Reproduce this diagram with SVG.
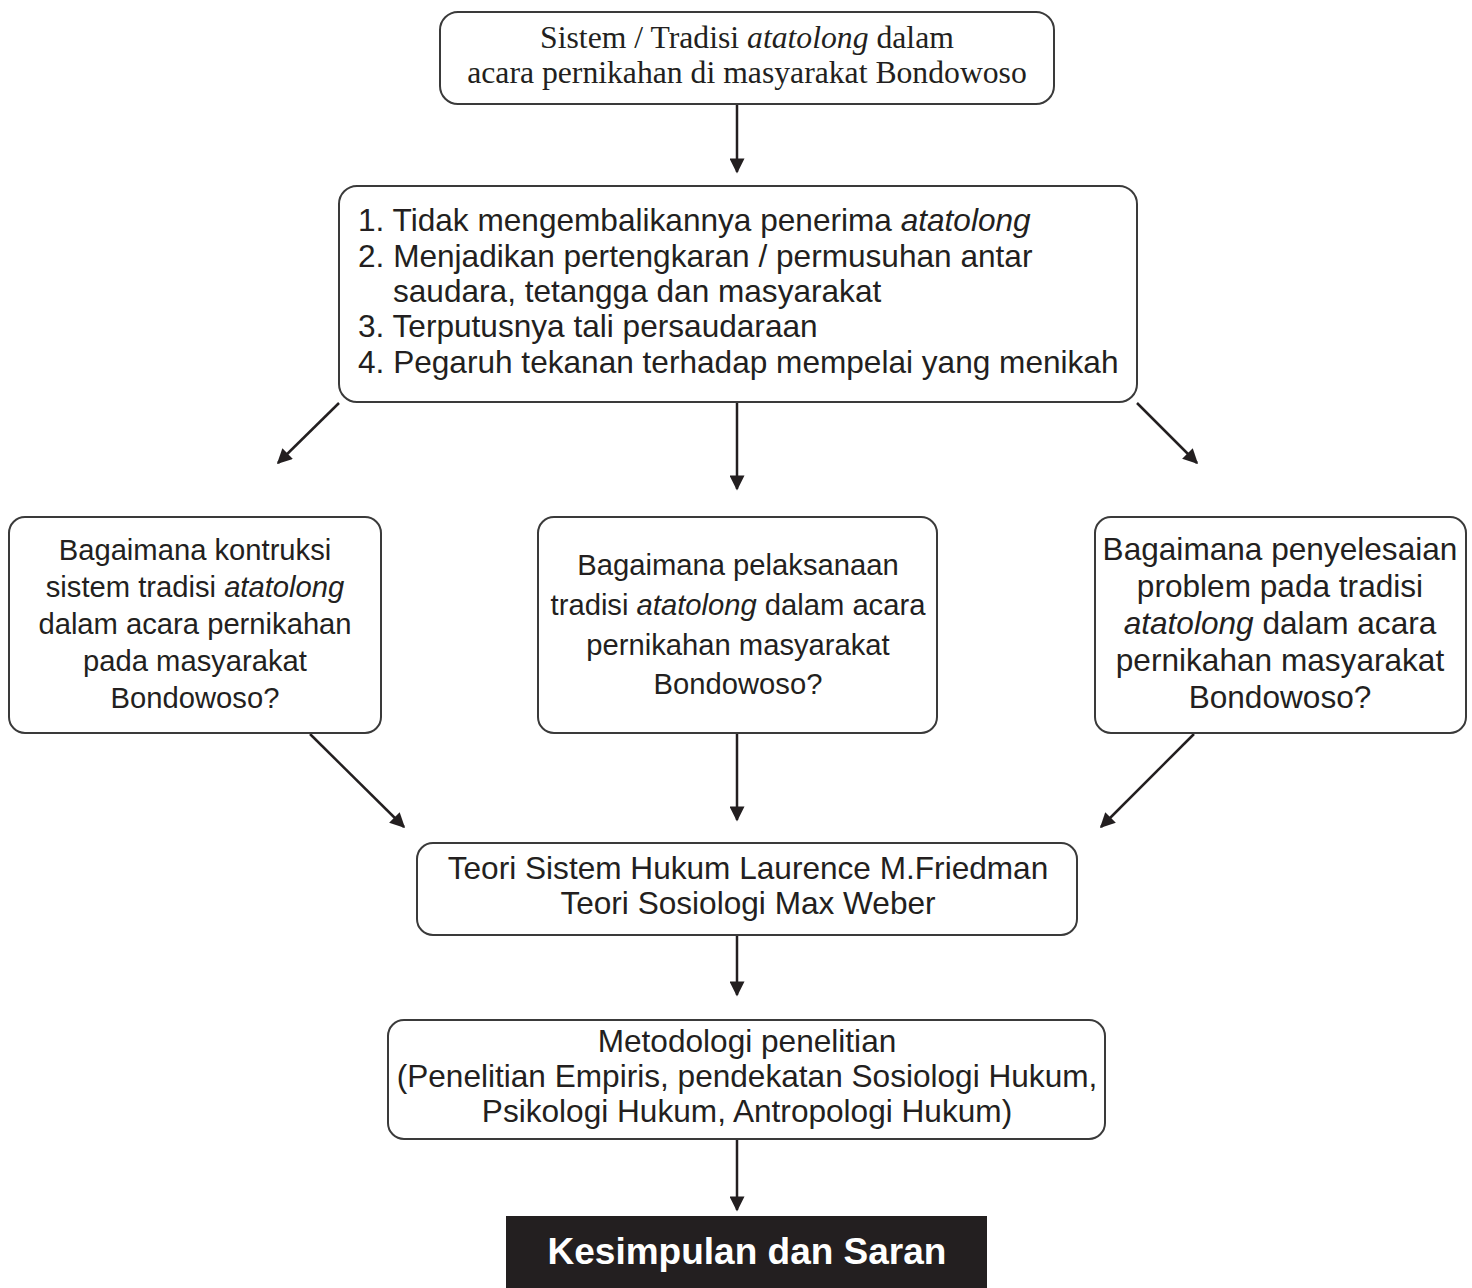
<svg xmlns="http://www.w3.org/2000/svg" width="1472" height="1288" viewBox="0 0 1472 1288">
<style>
.box{fill:#fff;stroke:#3a3a3a;stroke-width:2}
.sans{font-family:"Liberation Sans",Arial,sans-serif;font-size:31.6px;fill:#231f20}
.sm{font-size:29.2px}
.serif{font-family:"Liberation Serif","Times New Roman",serif;font-size:31.7px;fill:#231f20}
.c{text-anchor:middle}
.edge{stroke:#231f20;stroke-width:2.5;fill:none;marker-end:url(#ah)}
</style>
<defs>
<marker id="ah" viewBox="0 0 10 10" refX="9" refY="5" markerWidth="7.5" markerHeight="6" markerUnits="strokeWidth" orient="auto">
<path d="M0,0 L10,5 L0,10 z" fill="#231f20"/>
</marker>
</defs>
<rect width="1472" height="1288" fill="#fff"/>
<g id="connectors">
<line class="edge" x1="737" y1="104" x2="737" y2="172"/>
<line class="edge" x1="339" y1="403" x2="278" y2="463"/>
<line class="edge" x1="737" y1="402" x2="737" y2="489"/>
<line class="edge" x1="1137" y1="403" x2="1197" y2="463"/>
<line class="edge" x1="310" y1="734" x2="404" y2="827"/>
<line class="edge" x1="737" y1="733" x2="737" y2="820"/>
<line class="edge" x1="1194" y1="734" x2="1101" y2="827"/>
<line class="edge" x1="737" y1="935" x2="737" y2="995"/>
<line class="edge" x1="737" y1="1139" x2="737" y2="1210"/>
</g>
<g id="n-sistem">
<rect class="box" x="440" y="12" width="614" height="92" rx="18"/>
<text class="serif c" x="747" y="48">Sistem / Tradisi <tspan font-style="italic">atatolong</tspan> dalam</text>
<text class="serif c" x="747" y="83">acara pernikahan di masyarakat Bondowoso</text>
</g>
<g id="n-masalah">
<rect class="box" x="339" y="186" width="798" height="216" rx="18"/>
<text class="sans" x="358" y="231">1. Tidak mengembalikannya penerima <tspan font-style="italic">atatolong</tspan></text>
<text class="sans" x="358" y="267">2. Menjadikan pertengkaran / permusuhan antar</text>
<text class="sans" x="393" y="302">saudara, tetangga dan masyarakat</text>
<text class="sans" x="358" y="337">3. Terputusnya tali persaudaraan</text>
<text class="sans" x="358" y="373">4. Pegaruh tekanan terhadap mempelai yang menikah</text>
</g>
<g id="n-q1">
<rect class="box" x="9" y="517" width="372" height="216" rx="16"/>
<text class="sans sm c" x="195" y="560">Bagaimana kontruksi</text>
<text class="sans sm c" x="195" y="597">sistem tradisi <tspan font-style="italic">atatolong</tspan></text>
<text class="sans sm c" x="195" y="634">dalam acara pernikahan</text>
<text class="sans sm c" x="195" y="671">pada masyarakat</text>
<text class="sans sm c" x="195" y="708">Bondowoso?</text>
</g>
<g id="n-q2">
<rect class="box" x="538" y="517" width="399" height="216" rx="16"/>
<text class="sans sm c" x="738" y="575">Bagaimana pelaksanaan</text>
<text class="sans sm c" x="738" y="615">tradisi <tspan font-style="italic">atatolong</tspan> dalam acara</text>
<text class="sans sm c" x="738" y="655">pernikahan masyarakat</text>
<text class="sans sm c" x="738" y="694">Bondowoso?</text>
</g>
<g id="n-q3">
<rect class="box" x="1095" y="517" width="371" height="216" rx="16"/>
<text class="sans c" x="1280" y="560">Bagaimana penyelesaian</text>
<text class="sans c" x="1280" y="597">problem pada tradisi</text>
<text class="sans c" x="1280" y="634"><tspan font-style="italic">atatolong</tspan> dalam acara</text>
<text class="sans c" x="1280" y="671">pernikahan masyarakat</text>
<text class="sans c" x="1280" y="708">Bondowoso?</text>
</g>
<g id="n-teori">
<rect class="box" x="417" y="843" width="660" height="92" rx="16"/>
<text class="sans c" x="748" y="879">Teori Sistem Hukum Laurence M.Friedman</text>
<text class="sans c" x="748" y="914">Teori Sosiologi Max Weber</text>
</g>
<g id="n-metodologi">
<rect class="box" x="388" y="1020" width="717" height="119" rx="16"/>
<text class="sans c" x="747" y="1052">Metodologi penelitian</text>
<text class="sans c" x="747" y="1087">(Penelitian Empiris, pendekatan Sosiologi Hukum,</text>
<text class="sans c" x="747" y="1122">Psikologi Hukum, Antropologi Hukum)</text>
</g>
<g id="n-kesimpulan">
<rect x="506" y="1216" width="481" height="72" fill="#231f20"/>
<text x="747" y="1264" text-anchor="middle" font-family="Liberation Sans,Arial,sans-serif" font-weight="bold" font-size="37" fill="#fff">Kesimpulan dan Saran</text>
</g>
</svg>
